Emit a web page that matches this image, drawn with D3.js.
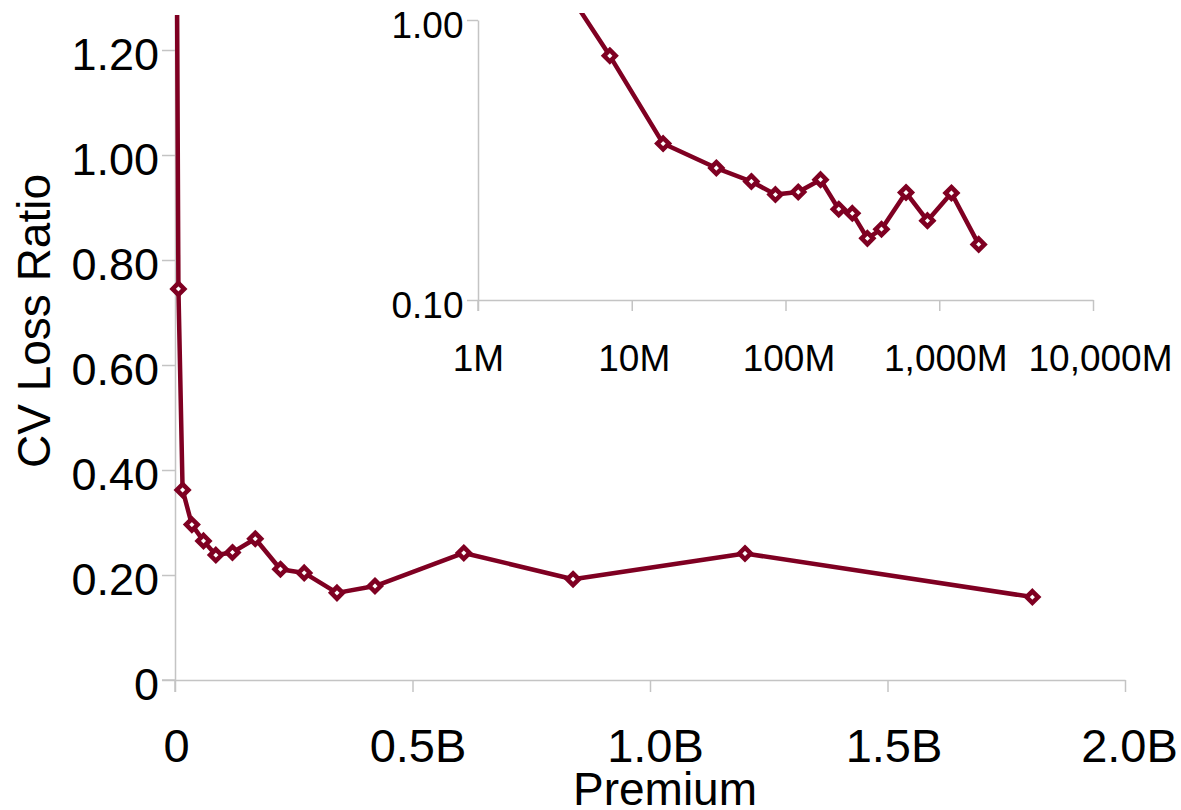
<!DOCTYPE html>
<html><head><meta charset="utf-8">
<script src="https://cdn.jsdelivr.net/npm/d3@7"></script>
<style>
body{margin:0;background:#fff}
svg text{font-family:"Liberation Sans",Arial,sans-serif;fill:#000}
</style>
</head><body>
<svg id="c" width="1181" height="810"></svg>
<script>
// Data (premium in millions, CV of loss ratio)
const premiumM    = [3, 7.2, 16, 35.5, 60, 86, 121, 169, 222, 272, 341, 421, 608, 838, 1200, 1805];
const cvLossRatio = [1.55, 0.745, 0.362, 0.296, 0.265, 0.238, 0.243, 0.269, 0.211, 0.204, 0.166, 0.179, 0.242, 0.192, 0.241, 0.158];

const mainYTicks = [0, 0.2, 0.4, 0.6, 0.8, 1.0, 1.2];
const mainXTicks = [0, 0.5, 1.0, 1.5, 2.0];
const mainXTickLabels = ["0", "0.5B", "1.0B", "1.5B", "2.0B"];
const insetXTicks = [1, 10, 100, 1000, 10000];
const insetXTickLabels = ["1M", "10M", "100M", "1,000M", "10,000M"];
const insetYTicks = [0.1, 1];
const insetYTickLabels = ["0.10", "1.00"];

const color = "#7f0022";
const axisColor = "#c4c4c4";
const svg = d3.select("#c");
const defs = svg.append("defs");

// ---------- main chart ----------
const x = d3.scaleLinear().domain([0, 2.0]).range([175, 1125]);
const y = d3.scaleLinear().domain([0, 1.2667]).range([680, 15]);

defs.append("clipPath").attr("id", "clipMain").append("rect")
  .attr("x", 165).attr("y", 15).attr("width", 975).attr("height", 680);

const yAxis = svg.append("g").attr("transform", "translate(175,0)")
  .call(d3.axisLeft(y).tickValues(mainYTicks).tickSize(13).tickSizeOuter(0).tickPadding(5)
    .tickFormat(d => d === 0 ? "0" : d.toFixed(2)));
yAxis.selectAll("text").attr("font-size", 45).attr("dy", "0.43em").attr("x", -16);

const xAxis = svg.append("g").attr("transform", "translate(0,680)")
  .call(d3.axisBottom(x).tickValues(mainXTicks).tickSize(12).tickSizeOuter(0)
    .tickFormat((d, i) => mainXTickLabels[i]));
xAxis.selectAll("text").attr("font-size", 47).attr("y", 82).attr("dy", 0)
  .attr("x", (d, i) => [1, 5, 5, 6, 4][i]);

[yAxis, xAxis].forEach(g => {
  g.selectAll("line,path").attr("stroke", axisColor).attr("stroke-width", 1.5);
});
// axis extensions past the origin
svg.append("line").attr("x1", 162).attr("x2", 175).attr("y1", 680).attr("y2", 680)
  .attr("stroke", axisColor).attr("stroke-width", 1.5);
svg.append("line").attr("x1", 175).attr("x2", 175).attr("y1", 680).attr("y2", 692)
  .attr("stroke", axisColor).attr("stroke-width", 1.5);

svg.append("text").attr("x", 665).attr("y", 805).attr("text-anchor", "middle")
  .attr("font-size", 46).text("Premium");
svg.append("text").attr("transform", "translate(50,321) rotate(-90)").attr("text-anchor", "middle")
  .attr("font-size", 46).text("CV Loss Ratio");

const mainData = premiumM.map((p, i) => [p / 1000, cvLossRatio[i]]);
const gMain = svg.append("g").attr("clip-path", "url(#clipMain)");
gMain.append("path").datum(mainData)
  .attr("d", d3.line().x(d => x(d[0])).y(d => y(d[1])))
  .attr("fill", "none").attr("stroke", color).attr("stroke-width", 4.5).attr("stroke-linejoin", "round");

const diamond = r => `M0,${-r}L${r},0L0,${r}L${-r},0Z`;
gMain.selectAll(".m").data(mainData).join("path")
  .attr("d", diamond(5.8))
  .attr("transform", d => `translate(${x(d[0])},${y(d[1])})`)
  .attr("fill", "#fff").attr("stroke", color).attr("stroke-width", 4.6);

// ---------- inset chart ----------
const xi = d3.scaleLog().domain([1, 10000]).range([478, 1093]);
const yi = d3.scaleLog().domain([0.1, 1]).range([300, 20]);

defs.append("clipPath").attr("id", "clipInset").append("rect")
  .attr("x", 478).attr("y", 13).attr("width", 620).attr("height", 295);

const yiAxis = svg.append("g").attr("transform", "translate(478,0)")
  .call(d3.axisLeft(yi).tickValues(insetYTicks).tickSize(11).tickSizeOuter(0)
    .tickFormat((d, i) => insetYTickLabels[i]));
yiAxis.selectAll("text").attr("font-size", 37).attr("dy", "0.46em").attr("x", -14.5);

const xiAxis = svg.append("g").attr("transform", "translate(0,300)")
  .call(d3.axisBottom(xi).tickValues(insetXTicks).tickSize(11).tickSizeOuter(0)
    .tickFormat((d, i) => insetXTickLabels[i]));
xiAxis.selectAll("text").attr("font-size", 37).attr("y", 71).attr("dy", 0)
  .attr("x", (d, i) => [0, 2, 3, 6, 7][i]);

[yiAxis, xiAxis].forEach(g => {
  g.selectAll("line,path").attr("stroke", axisColor).attr("stroke-width", 1.5);
});
svg.append("line").attr("x1", 478).attr("x2", 478).attr("y1", 300).attr("y2", 311)
  .attr("stroke", axisColor).attr("stroke-width", 1.5);

const insetData = premiumM.map((p, i) => [p, cvLossRatio[i]]);
const gInset = svg.append("g").attr("clip-path", "url(#clipInset)");
gInset.append("path").datum(insetData)
  .attr("d", d3.line().x(d => xi(d[0])).y(d => yi(d[1])))
  .attr("fill", "none").attr("stroke", color).attr("stroke-width", 4.5).attr("stroke-linejoin", "round");
gInset.selectAll(".m").data(insetData).join("path")
  .attr("d", diamond(5.8))
  .attr("transform", d => `translate(${xi(d[0])},${yi(d[1])})`)
  .attr("fill", "#fff").attr("stroke", color).attr("stroke-width", 4.6);
</script>
</body></html>
